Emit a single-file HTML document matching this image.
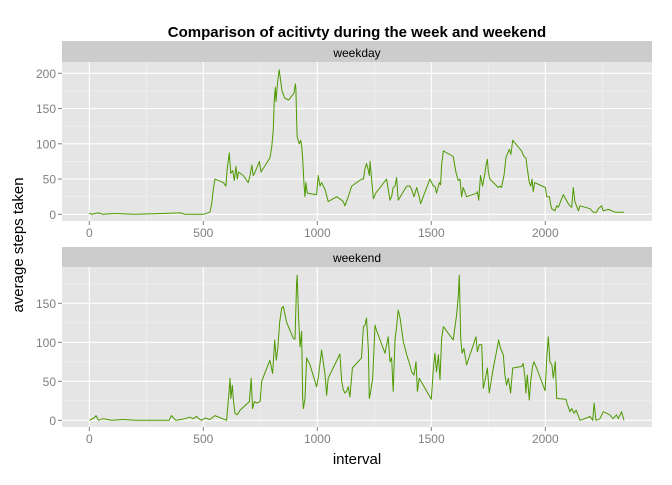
<!DOCTYPE html>
<html><head><meta charset="utf-8"><style>
body{margin:0;background:#fff}
svg text{font-family:"Liberation Sans",sans-serif}
</style></head><body>
<svg id="chart" width="672" height="480" xmlns="http://www.w3.org/2000/svg">
<rect width="672" height="480" fill="#fff"/>
<text x="357" y="37" text-anchor="middle" font-size="15" font-weight="bold">Comparison of acitivty during the week and weekend</text>
<text transform="translate(23,245) rotate(-90)" text-anchor="middle" font-size="15">average steps taken</text>
<text x="357" y="464" text-anchor="middle" font-size="15">interval</text>
<g id="panels"></g>
</svg>
<script>
const xTicks = [0, 500, 1000, 1500, 2000];
const yTicksWeekday = [0, 50, 100, 150, 200];
const yTicksWeekend = [0, 50, 100, 150];
const facetLabels = ["weekday", "weekend"];
const weekdayIntervals = [0,10,40,60,100,130,200,300,400,420,442,500,529,537,544,551,588,599,605,614,620,629,636,643,649,654,675,697,705,713,719,727,746,753,792,800,807,811,816,819,825,833,839,845,857,874,898,904,906,909,912,921,927,931,936,942,946,950,956,997,1004,1012,1019,1034,1048,1085,1107,1114,1121,1136,1151,1194,1202,1209,1216,1224,1228,1231,1238,1246,1256,1304,1319,1326,1333,1341,1348,1355,1392,1406,1414,1424,1436,1447,1453,1494,1509,1516,1523,1535,1541,1545,1553,1596,1608,1618,1626,1633,1640,1655,1699,1702,1708,1716,1725,1735,1740,1746,1750,1757,1794,1801,1808,1819,1827,1833,1842,1849,1857,1896,1906,1915,1921,1930,1936,1942,1947,1953,2000,2006,2018,2023,2028,2042,2050,2057,2079,2101,2108,2116,2123,2130,2145,2152,2196,2210,2225,2232,2247,2254,2276,2306,2327,2345];
const weekdaySteps = [2,0,2,0,1,1,0,1,2,0,0,0,3,15,35,50,45,40,65,87,58,62,48,68,50,60,55,45,55,70,55,60,75,60,80,95,120,160,180,160,185,205,190,175,165,162,172,185,178,135,110,100,105,98,78,40,25,45,30,28,55,40,45,35,18,25,20,18,12,25,40,50,50,65,72,62,55,75,50,22,30,50,20,25,38,40,52,20,40,40,35,25,38,25,15,50,40,40,30,45,42,70,90,82,60,48,50,25,38,25,30,32,20,55,40,58,70,78,60,50,38,40,38,55,80,85,92,85,105,90,82,80,65,45,40,50,32,45,38,25,25,15,8,5,12,10,28,15,12,10,38,18,5,12,8,3,3,8,12,5,7,3,3,3,5,1];
const weekendIntervals = [0,20,30,40,60,100,150,200,250,350,360,380,420,440,456,470,480,493,507,529,551,602,613,617,621,627,632,639,649,661,702,706,710,716,724,734,749,756,792,804,813,820,827,835,844,851,865,895,902,909,912,918,924,931,936,939,946,953,968,997,1004,1019,1026,1034,1041,1048,1099,1107,1114,1121,1128,1136,1143,1154,1194,1202,1209,1216,1224,1228,1234,1243,1253,1260,1297,1311,1319,1326,1333,1341,1348,1355,1363,1377,1392,1404,1414,1424,1433,1439,1447,1500,1509,1516,1523,1531,1538,1545,1553,1596,1611,1619,1623,1629,1635,1643,1655,1696,1702,1711,1721,1728,1735,1746,1754,1772,1786,1795,1804,1816,1823,1830,1838,1848,1857,1896,1903,1911,1915,1921,1930,1936,1944,1950,1962,1999,2006,2013,2020,2029,2035,2044,2050,2091,2095,2108,2116,2126,2135,2152,2181,2196,2208,2214,2222,2240,2254,2283,2298,2312,2320,2334,2345];
const weekendSteps = [0,3,6,0,2,0,1,0,0,0,6,0,2,4,2,5,2,0,3,1,6,0,37,54,28,45,26,9,7,13,24,39,54,15,24,22,24,50,77,60,103,77,94,126,144,146,126,105,104,176,186,131,94,114,28,15,28,80,71,43,54,90,75,58,32,54,85,50,39,35,37,43,30,67,80,120,122,131,90,28,37,54,122,115,86,107,75,80,37,103,120,141,131,101,84,73,62,58,75,37,54,27,67,86,62,84,52,105,120,103,135,161,186,105,86,92,71,107,88,97,97,41,50,67,35,67,88,103,92,84,58,45,54,35,67,69,73,54,35,58,26,50,69,75,67,38,79,107,75,71,54,75,28,27,22,11,15,9,13,0,3,5,0,22,0,2,11,7,2,7,2,11,0];

const NS = "http://www.w3.org/2000/svg";
const g = document.getElementById('panels');
const X0 = 62, X1 = 652;
function xScale(v){ return 89.3 + v * 0.228; }
function mk(tag, attrs, parent){ const e=document.createElementNS(NS,tag); for(const k in attrs) e.setAttribute(k,attrs[k]); (parent||g).appendChild(e); return e; }

const panels = [
  {label:facetLabels[0], top:62, bottom:221, stripTop:41, zero:214.3, k:0.705, ticks:yTicksWeekday, xs:weekdayIntervals, ys:weekdaySteps},
  {label:facetLabels[1], top:267, bottom:427, stripTop:247, zero:420.3, k:0.78, ticks:yTicksWeekend, xs:weekendIntervals, ys:weekendSteps}
];
panels.forEach((p, pi) => {
  const yScale = v => p.zero - v * p.k;
  const strip = mk('rect',{x:X0,y:p.stripTop,width:X1-X0,height:p.top-p.stripTop,fill:'#cccccc'});
  
  
  const st = mk('text',{x:(X0+X1)/2,y:p.top-5,'text-anchor':'middle','font-size':12,fill:'#000'});
  st.textContent = p.label;
  
  
  const bg = mk('rect',{x:X0,y:p.top,width:X1-X0,height:p.bottom-p.top,fill:'#e5e5e5'});
  
  
  for (let i=0;i<xTicks.length;i++){ const v=xTicks[i]+250; const x=xScale(v); if(x<X1) mk('line',{x1:x,x2:x,y1:p.top,y2:p.bottom,stroke:'#f2f2f2','stroke-width':0.6}); }
  for (let i=0;i<p.ticks.length;i++){ const y=yScale(p.ticks[i]+25); if(y>p.top) mk('line',{x1:X0,x2:X1,y1:y,y2:y,stroke:'#f2f2f2','stroke-width':0.6}); }
  xTicks.forEach(v => {
    const x = xScale(v);
    mk('line',{x1:x,x2:x,y1:p.top,y2:p.bottom,stroke:'#fff','stroke-width':1.1});
    mk('line',{x1:x,x2:x,y1:p.bottom,y2:p.bottom+4,stroke:'#7f7f7f','stroke-width':1});
    const t = mk('text',{x:x,y:p.bottom+16,'text-anchor':'middle','font-size':12,fill:'#7f7f7f'});
    t.textContent = v;
    
    
  });
  p.ticks.forEach(v => {
    const y = yScale(v);
    mk('line',{x1:X0,x2:X1,y1:y,y2:y,stroke:'#fff','stroke-width':1.1});
    mk('line',{x1:X0-4,x2:X0,y1:y,y2:y,stroke:'#7f7f7f','stroke-width':1});
    const t = mk('text',{x:X0-6,y:y+4.5,'text-anchor':'end','font-size':12,fill:'#7f7f7f'});
    t.textContent = v;
    
    
  });
  const pts = p.xs.map((v,i)=> xScale(v).toFixed(1)+','+yScale(p.ys[i]).toFixed(1)).join(' ');
  const line = mk('polyline',{points:pts,fill:'none',stroke:'#4d9900','stroke-width':1,'stroke-linejoin':'round'});
  
  
});
</script>
</body></html>
